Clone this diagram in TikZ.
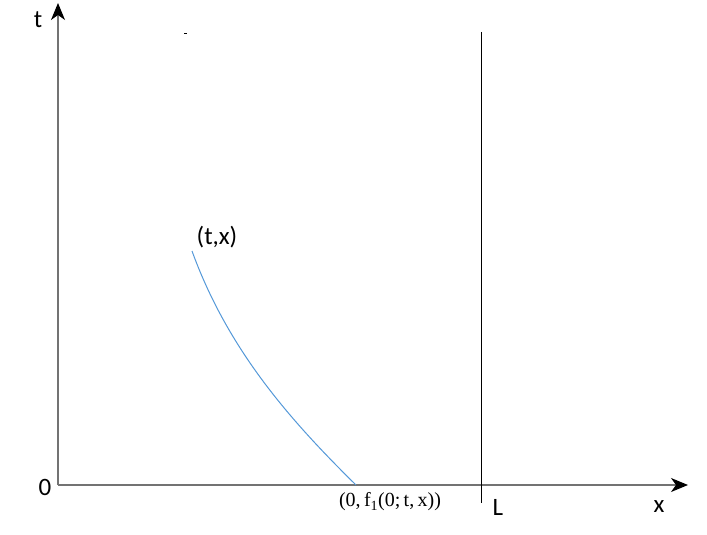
\documentclass[tikz,border=0pt]{standalone}
\usepackage{fontspec}
\setmainfont{Carlito}
\newfontfamily\serifrm{Liberation Serif}
\usetikzlibrary{arrows.meta}
\begin{document}
\begin{tikzpicture}[x=1pt,y=-1pt,
  axis/.style={draw=black!55, line width=1.3pt, -{Stealth[length=17pt,width=14pt,inset=5pt,black]}},
  lbl/.style={font=\fontsize{25}{27}\selectfont, inner sep=0pt},
  curve/.style={draw=cyan!60!blue!70, line width=1pt}]
\useasboundingbox (0,0) rectangle (707,535);
\coordinate (O) at (58,485);
\coordinate (T) at (58,3);
\coordinate (X) at (688,485);
\coordinate (Ltop) at (481,32);
\coordinate (Lbot) at (481,503);
\coordinate (P) at (192,251);
\coordinate (Q) at (356,485);
\draw[axis] (O) -- (T);
\draw[axis] (O) -- (X);
\draw[black, line width=1pt] (Ltop) -- (Lbot);
\draw[curve] (P) .. controls (228,350) and (290,420) .. (Q);
\draw[black, line width=0.8pt] (184,33) -- (187,33);
\node[lbl] (tl) at (38,20) {t};
\node[lbl] (zl) at (45,487) {0};
\node[lbl] (pl) at (217,237) {(t,x)};
\node[lbl] (ll) at (498,507) {L};
\node[lbl] (xl) at (659,507) {x};
\node[inner sep=0pt, font=\serifrm\fontsize{20}{22}\selectfont] (ql) at (390,502) {(0,\,f\textsubscript{\fontsize{14}{15}\selectfont 1}(0;\,t,\,x))};
\end{tikzpicture}
\end{document}
